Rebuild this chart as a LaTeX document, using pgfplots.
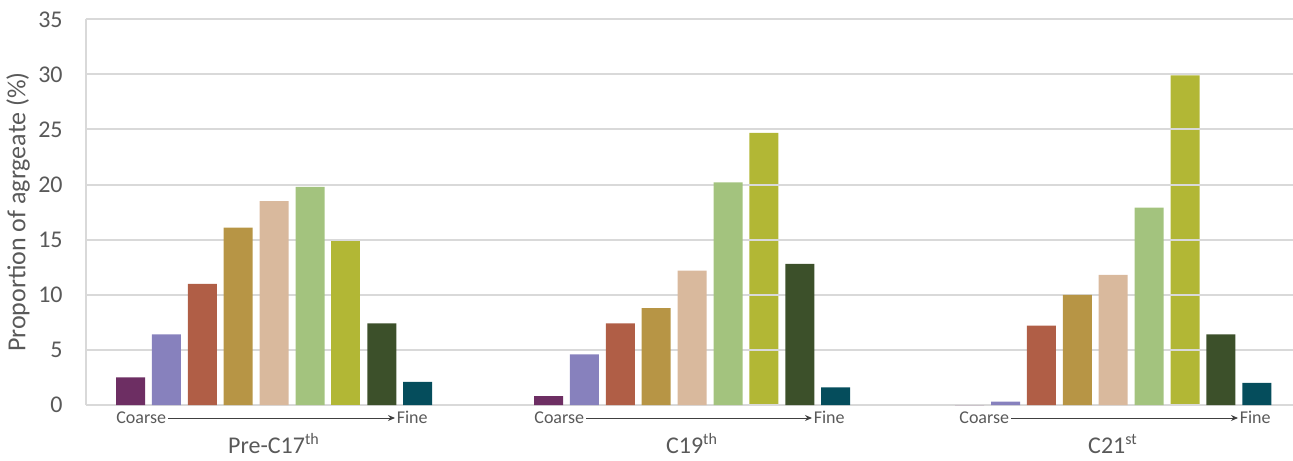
\documentclass[border=0pt]{standalone}
\usepackage{fontspec}
\setmainfont{Carlito}
\usepackage{pgfplots}
\pgfplotsset{compat=1.18}
\usetikzlibrary{arrows.meta}

\definecolor{txt}{HTML}{595959}
\definecolor{grd}{HTML}{D9D9D9}
\definecolor{arr}{HTML}{404040}
\definecolor{c1}{HTML}{6D2E63}
\definecolor{c2}{HTML}{8781BD}
\definecolor{c3}{HTML}{B05E46}
\definecolor{c4}{HTML}{B79545}
\definecolor{c5}{HTML}{D9B99D}
\definecolor{c6}{HTML}{A3C37E}
\definecolor{c7}{HTML}{B2B735}
\definecolor{c8}{HTML}{3C502A}
\definecolor{c9}{HTML}{054D5C}

% x in image pixels, 1px = 0.5pt; bar i of a group sits at P + 35.9*i
\begin{document}
\begin{tikzpicture}
\begin{axis}[
  set layers,
  scale only axis, width=603.5pt, height=192.85pt,
  xmin=86, xmax=1293, ymin=0, ymax=35,
  ytick={0,5,...,35}, xtick=\empty,
  ymajorgrids, grid style={grd, line width=1pt},
  axis x line=bottom, axis y line=left,
  axis line style={-, grd, line width=1pt},
  major tick length=0pt,
  tick label style={font=\fontsize{12}{14}\selectfont, text=txt},
  /pgf/number format/assume math mode=true,
  yticklabel style={inner sep=0pt, xshift=-11.5pt},
  ylabel={Proportion of agrgeate (\%)},
  every axis y label/.style={at={(axis description cs:0,0.5)}, xshift=-34pt,
    rotate=90, anchor=center, font=\fontsize{13}{15}\selectfont, text=txt},
  ybar, bar width=29,
  b/.style={fill=#1, draw=none, bar shift=0pt},
  clip=false,
]
\addplot[b=c1] coordinates {(130.5,2.5) (548.5,0.8) (969.6,0)};
\addplot[b=c2] coordinates {(166.4,6.4) (584.4,4.6) (1005.5,0.3)};
\addplot[b=c3] coordinates {(202.3,11.0) (620.3,7.4) (1041.4,7.2)};
\addplot[b=c4] coordinates {(238.2,16.1) (656.2,8.8) (1077.3,10.0)};
\addplot[b=c5] coordinates {(274.1,18.5) (692.1,12.2) (1113.2,11.8)};
\addplot[b=c6] coordinates {(310.0,19.8) (728.0,20.2) (1149.1,17.9)};
\addplot[b=c7] coordinates {(345.9,14.9)};
\addplot[b=c7, on layer=axis background] coordinates {(763.9,24.7) (1185.0,29.9)};
\addplot[b=c8] coordinates {(381.8,7.4) (799.8,12.8) (1220.9,6.4)};
\addplot[b=c9] coordinates {(417.7,2.1) (835.7,1.6) (1256.8,2.0)};

\begin{scope}[font=\fontsize{9}{11}\selectfont, text=txt]
\node[anchor=base west, inner sep=0pt] at (axis cs:116,-1.72) {Coarse};
\node[anchor=base east, inner sep=0pt] at (axis cs:428,-1.72) {Fine};
\draw[arr, line width=0.5pt, -{Stealth[length=3.5pt,width=3pt]}] (axis cs:168,-1.18) -- (axis cs:395,-1.18);
\node[anchor=base west, inner sep=0pt] at (axis cs:534,-1.72) {Coarse};
\node[anchor=base east, inner sep=0pt] at (axis cs:845,-1.72) {Fine};
\draw[arr, line width=0.5pt, -{Stealth[length=3.5pt,width=3pt]}] (axis cs:586,-1.18) -- (axis cs:812,-1.18);
\node[anchor=base west, inner sep=0pt] at (axis cs:959,-1.72) {Coarse};
\node[anchor=base east, inner sep=0pt] at (axis cs:1271,-1.72) {Fine};
\draw[arr, line width=0.5pt, -{Stealth[length=3.5pt,width=3pt]}] (axis cs:1011,-1.18) -- (axis cs:1238,-1.18);
\end{scope}
\begin{scope}[font=\fontsize{12}{14}\selectfont, text=txt]
\node[anchor=base, inner sep=0pt] at (axis cs:274,-4.36) {Pre-C17\textsuperscript{th}};
\node[anchor=base, inner sep=0pt] at (axis cs:692,-4.36) {C19\textsuperscript{th}};
\node[anchor=base, inner sep=0pt] at (axis cs:1113,-4.36) {C21\textsuperscript{st}};
\end{scope}
\end{axis}
\pgfresetboundingbox
\useasboundingbox (-43pt,-27.5pt) rectangle (603.5pt,202.5pt);
\end{tikzpicture}
\end{document}
